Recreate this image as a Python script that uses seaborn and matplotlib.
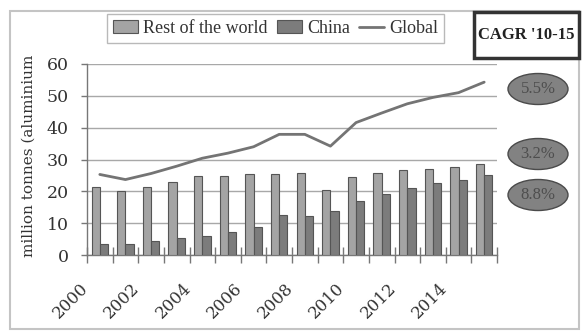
import numpy as np
import pandas as pd
import matplotlib
matplotlib.use("Agg")
import matplotlib.pyplot as plt
from matplotlib.patches import Rectangle, Ellipse
from matplotlib.transforms import ScaledTranslation
import seaborn as sns

# Aluminium production, million tonnes
years = list(range(2000, 2016))
rest_of_world = [21.5, 20.0, 21.3, 22.9, 24.8, 24.9, 25.4, 25.4, 25.7, 20.3, 24.5, 25.8, 26.7, 26.9, 27.8, 28.6]
china = [3.5, 3.5, 4.4, 5.2, 6.0, 7.1, 8.9, 12.7, 12.4, 13.7, 17.0, 19.1, 21.0, 22.5, 23.5, 25.2]
global_total = [25.3, 23.7, 25.6, 27.9, 30.4, 32.0, 34.0, 37.9, 37.9, 34.2, 41.6, 44.6, 47.5, 49.5, 51.0, 54.3]

series_names = ["Rest of the world", "China", "Global"]
cagr_title = "CAGR '10-15"
cagr_labels = ["5.5%", "3.2%", "8.8%"]
y_label = "million tonnes (aluminium"
y_ticks = [0, 10, 20, 30, 40, 50, 60]

W, H = 582, 331
sns.set_theme(style="white")
plt.rcParams["font.family"] = ["DejaVu Serif"]

fig = plt.figure(figsize=(W / 100, H / 100), dpi=100)
fig.patch.set_facecolor("white")


def fx(px):
    return px / W


def fy(py):
    return 1 - py / H


ax = fig.add_axes([fx(87), fy(255), fx(497) - fx(87), fy(64) - fy(255)])

bars = pd.DataFrame({
    "year": [str(y) for y in years] * 2,
    "series": [series_names[0]] * len(years) + [series_names[1]] * len(years),
    "value": rest_of_world + china,
})
sns.barplot(data=bars, x="year", y="value", hue="series",
            palette=["#a4a4a4", "#7c7c7c"], width=0.64, gap=0,
            edgecolor="#555555", linewidth=0.8, ax=ax, zorder=3)
sns.lineplot(x=np.arange(len(years)), y=global_total, color="#747474",
             linewidth=2.0, ax=ax, label=series_names[2], zorder=4)

ax.set_xlim(-0.5, len(years) - 0.5)
ax.set_ylim(0, 60)
ax.set_xlabel("")
ax.set_ylabel("")

# gridlines
ax.set_yticks(y_ticks)
ax.yaxis.grid(True, color="#a8a8a8", linewidth=1.0, zorder=0)
ax.xaxis.grid(False)
ax.set_axisbelow(True)
for s in ["top", "right"]:
    ax.spines[s].set_visible(False)
for s in ["left", "bottom"]:
    ax.spines[s].set_color("#777777")
    ax.spines[s].set_linewidth(1.0)

ax.tick_params(axis="y", which="major", left=True, length=4, width=1,
               color="#777777", pad=9, labelsize=12.5, labelcolor="#333333")

# x: labels every other year, tick marks at category boundaries
label_pos = np.arange(0, len(years), 2)
ax.set_xticks(label_pos)
ax.set_xticklabels([str(years[i]) for i in label_pos])
ax.set_xticks(np.arange(-0.5, len(years), 1), minor=True)
ax.tick_params(axis="x", which="major", bottom=True, length=0, pad=0,
               labelsize=12, labelcolor="#333333")
ax.tick_params(axis="x", which="minor", bottom=True, direction="inout",
               length=12, width=1, color="#777777")
offset = ScaledTranslation(-0.20, -0.25, fig.dpi_scale_trans)
for lbl in ax.get_xticklabels():
    lbl.set_rotation(45)
    lbl.set_ha("right")
    lbl.set_va("top")
    lbl.set_rotation_mode("anchor")
    lbl.set_transform(lbl.get_transform() + offset)

# legend above plot
handles, labels = ax.get_legend_handles_labels()
if ax.get_legend() is not None:
    ax.get_legend().remove()
leg = fig.legend(handles, labels, loc="upper left",
                 bbox_to_anchor=(fx(107), fy(14)), ncol=3, frameon=True,
                 fancybox=False, edgecolor="#a8a8a8", borderaxespad=0,
                 handlelength=1.39, handleheight=0.7, handletextpad=0.28,
                 columnspacing=0.5, borderpad=0.33,
                 prop={"family": "Liberation Serif", "size": 13})
leg.get_frame().set_linewidth(1.0)
for t in leg.get_texts():
    t.set_color("#333333")

# y label
fig.text(fx(29), fy(257), y_label, rotation=90, ha="center", va="bottom",
         fontsize=11, color="#333333")

# outer frame
fig.patches.append(Rectangle((fx(10), fy(329)), fx(579) - fx(10), fy(11) - fy(329),
                             transform=fig.transFigure, fill=False,
                             edgecolor="#c4c4c4", linewidth=1.5))

# CAGR box and growth-rate ovals
fig.patches.append(Rectangle((fx(474), fy(58)), fx(579) - fx(474), fy(12) - fy(58),
                             transform=fig.transFigure, facecolor="white",
                             edgecolor="#333333", linewidth=2.5))
fig.text(fx(526.5), fy(35), cagr_title, ha="center", va="center",
         fontsize=12, fontweight="bold", family="Liberation Serif", color="#222222")

oval_centres = [89, 154, 195]
for cy, txt in zip(oval_centres, cagr_labels):
    fig.patches.append(Ellipse((fx(538), fy(cy)), fx(60), 31 / H,
                               transform=fig.transFigure, facecolor="#828282",
                               edgecolor="#4a4a4a", linewidth=1.0))
    fig.text(fx(538), fy(cy), txt, ha="center", va="center", fontsize=12,
             family="Liberation Serif", color="#4e4e4e")

fig.savefig("out.png", dpi=100, facecolor="white")
